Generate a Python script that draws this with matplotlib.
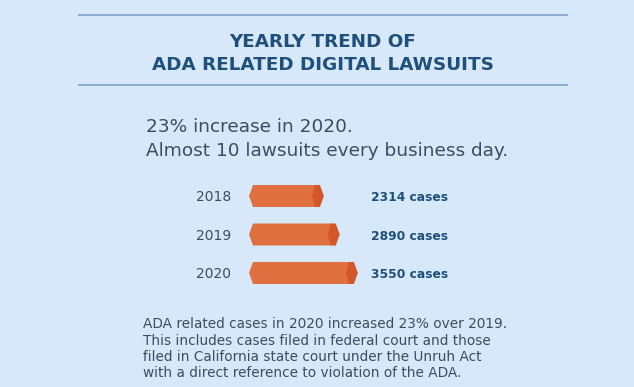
import matplotlib.pyplot as plt
from matplotlib.patches import Polygon
import numpy as np

years = ["2018", "2019", "2020"]
cases = [2314, 2890, 3550]
case_labels = ["2314 cases", "2890 cases", "3550 cases"]
title_lines = ["YEARLY TREND OF", "ADA RELATED DIGITAL LAWSUITS"]
headline = ["23% increase in 2020.", "Almost 10 lawsuits every business day."]
note = ["ADA related cases in 2020 increased 23% over 2019.",
        "This includes cases filed in federal court and those",
        "filed in California state court under the Unruh Act",
        "with a direct reference to violation of the ADA."]

W, H = 634, 387
bg = "#d6e8f9"
navy = "#1f4f7d"
grey = "#3b4d63"
orange = "#e0703f"
orange_dark = "#d4572a"
rule = "#86a8cc"
font = "DejaVu Sans"

fig = plt.figure(figsize=(W / 100, H / 100), dpi=100, facecolor=bg)


def fx(px):
    return px / W


def fy(py):
    return 1 - py / H


# rules around the title
for py in [15, 85]:
    fig.add_artist(plt.Line2D([fx(79), fx(567)], [fy(py), fy(py)], color=rule, lw=1.3))

for txt, py in zip(title_lines, [47, 70]):
    fig.text(fx(323), fy(py), txt, ha="center", va="baseline", fontsize=13.2,
             fontweight="bold", color=navy, family=font)

for txt, py in zip(headline, [132, 156]):
    fig.text(fx(146), fy(py), txt, ha="left", va="baseline", fontsize=13.3,
             color=grey, family=font)

for txt, py in zip(note, [328, 345, 361, 377]):
    fig.text(fx(143), fy(py), txt, ha="left", va="baseline", fontsize=9.8,
             color=grey, family=font)

# bar area: pixels 249..489 wide, 170..300 tall
k = 0.0275          # pixels per case
base = -410         # value where the bar tail sits
ax_l, ax_r, ax_t, ax_b = 249, 489, 170, 300
ax = fig.add_axes([fx(ax_l), fy(ax_b), fx(ax_r - ax_l), (ax_b - ax_t) / H])
ax.set_xlim(base, base + (ax_r - ax_l) / k)
row = 38.5
ax.set_ylim(2 + (ax_b - 273) / row, -(196 - ax_t) / row)
ax.axis("off")
ax.patch.set_alpha(0)

px = 1 / k               # one pixel in data units
hh = 11 / row            # half bar height in rows
for i, v in enumerate(cases):
    body = [(base, i), (base + 4 * px, i - hh), (v - 8 * px, i - hh),
            (v - 8 * px, i + hh), (base + 4 * px, i + hh)]
    ax.add_patch(Polygon(body, closed=True, fc=orange, ec="none"))
    cap = [(v - 9 * px, i - hh), (v - 4 * px, i - hh), (v, i),
           (v - 4 * px, i + hh), (v - 9 * px, i + hh), (v - 12 * px, i)]
    ax.add_patch(Polygon(cap, closed=True, fc=orange_dark, ec="none"))

    yc = [196, 235, 273][i]
    fig.text(fx(231), fy(yc + 5), years[i], ha="right", va="baseline",
             fontsize=10, color=grey, family=font)
    fig.text(fx(371), fy(yc + 5), case_labels[i], ha="left", va="baseline",
             fontsize=8.8, fontweight="bold", color=navy, family=font)

fig.savefig("out.png", dpi=100, facecolor=bg)
